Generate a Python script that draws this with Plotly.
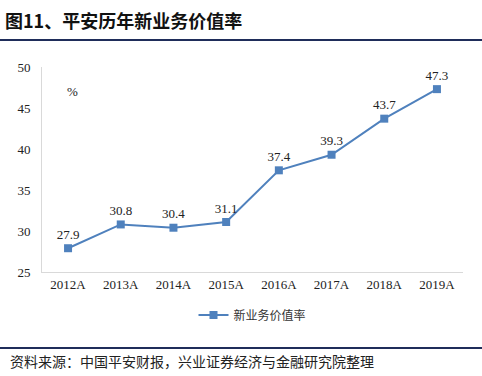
import plotly.graph_objects as go

categories = ["2012A", "2013A", "2014A", "2015A", "2016A", "2017A", "2018A", "2019A"]
nbv_margin = [27.9, 30.8, 30.4, 31.1, 37.4, 39.3, 43.7, 47.3]
series_name = "新业务价值率"
title_text = "图11、平安历年新业务价值率"
source_text = "资料来源：中国平安财报，兴业证券经济与金融研究院整理"

W, H = 482, 376
L, R, T, B = 42, 19, 67, 104
pw, ph = W - L - R, H - T - B

def px_x(x):
    return (x - L) / pw

def px_y(y):
    return (H - B - y) / ph

color = "#4f81bd"
serif = "Liberation Serif, Times New Roman, serif"
cjk = "Noto Sans CJK SC, sans-serif"

fig = go.Figure()
fig.add_trace(go.Scatter(
    x=categories, y=nbv_margin, mode="lines+markers+text",
    name=series_name,
    line=dict(color=color, width=2),
    marker=dict(symbol="square", size=8, color=color),
    text=[f"{v:.1f}" for v in nbv_margin],
    textposition="top center",
    textfont=dict(family=serif, size=13, color="#222"),
    cliponaxis=False,
))

fig.update_layout(
    width=W, height=H,
    margin=dict(l=L, r=R, t=T, b=B),
    plot_bgcolor="white", paper_bgcolor="white",
    showlegend=True,
    legend=dict(orientation="h", x=0.5, xanchor="center", y=px_y(315), yanchor="middle",
                font=dict(family=cjk, size=12, color="#333")),
    xaxis=dict(showgrid=False, showline=True, linecolor="#d9d9d9", linewidth=1,
               ticks="", tickfont=dict(family=serif, size=13, color="#222"), fixedrange=True),
    yaxis=dict(range=[25, 50], dtick=5, showgrid=False, showline=True, linecolor="#d9d9d9",
               linewidth=1, ticks="", zeroline=False,
               tickfont=dict(family=serif, size=13, color="#222"), ticklabelstandoff=8),
    font=dict(family=serif),
)

fig.add_annotation(text="%", x=px_x(65), y=px_y(82), xref="paper", yref="paper",
                   showarrow=False, font=dict(family=serif, size=13, color="#222"))
fig.add_annotation(text="<b>" + title_text + "</b>", x=px_x(3), y=px_y(20), xref="paper", yref="paper",
                   xanchor="left", yanchor="middle", showarrow=False,
                   font=dict(family=cjk, size=18, color="#111"))
fig.add_annotation(text=source_text, x=px_x(8), y=px_y(361), xref="paper", yref="paper",
                   xanchor="left", yanchor="middle", showarrow=False,
                   font=dict(family=cjk, size=14, color="#222"))
for yy in (40, 348):
    fig.add_shape(type="line", xref="paper", yref="paper",
                  x0=px_x(0), x1=px_x(W), y0=px_y(yy), y1=px_y(yy),
                  line=dict(color="#1f2d5a", width=2))

fig.write_html("out.html", config={"displayModeBar": False},
               post_script="document.body.style.margin='0';document.body.style.overflow='hidden';")
